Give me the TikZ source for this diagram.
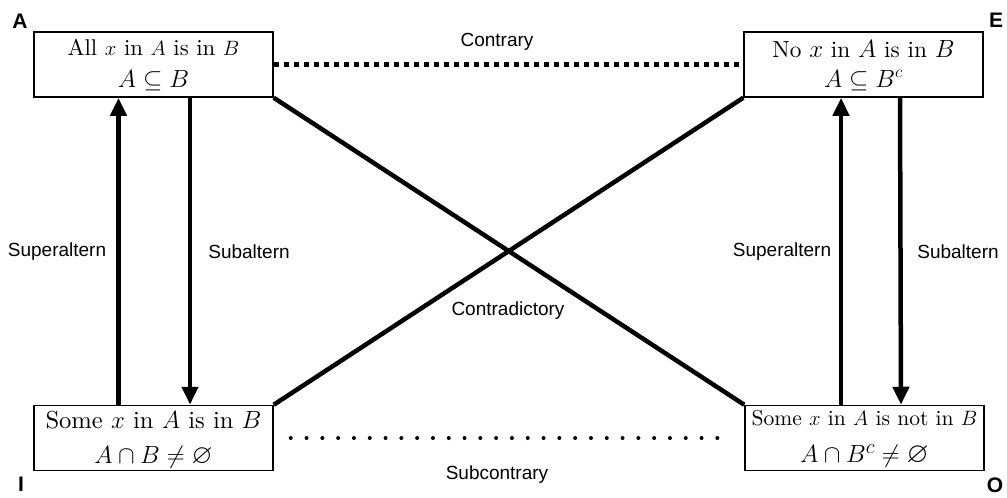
\documentclass[tikz,border=0pt]{standalone}
\usepackage{amsmath,amssymb}
\usepackage{fontspec}
\setsansfont{Liberation Sans}
\newfontfamily\proprm[Extension=.otf]{lmroman10-regular}
\usepackage{tikz}
\usetikzlibrary{arrows.meta,calc}

\begin{document}
\begin{tikzpicture}[
  x=1pt,y=-1pt,
  every node/.style={font=\sffamily\fontsize{19}{22}\selectfont},
  prop/.style={draw=black,line width=1.5pt,fill=white,minimum width=239pt,minimum height=65pt,inner sep=0pt},
  claim/.style={anchor=base,inner sep=0pt,font=\proprm\fontsize{#1}{#1}\selectfont},
  corner/.style={font=\sffamily\bfseries\fontsize{21}{22}\selectfont},
  arrow/.style={line width=4.5pt,-{Triangle[length=18pt,width=16pt]}},
  line/.style={line width=4.5pt},
  contrary/.style={line width=4.5pt,dash pattern=on 5pt off 5pt},
  subcontrary/.style={line width=4pt,line cap=round,dash pattern=on 0pt off 15.8pt}
]
\useasboundingbox (0,0) rectangle (1007,498);
\node[prop] (A) at (153.5,64.5) {};
\node[prop] (E) at (863.5,64.5) {};
\node[prop] (I) at (153.5,438) {};
\node[prop] (O) at (864.5,438) {};
% box texts
\node[claim=22.8] (A1) at ([yshift=9.5pt]A.center) {All $x$ in $A$ is in $B$};
\node[claim=26.5] (A2) at ([yshift=-22.5pt]A.center) {$A\subseteq B$};
\node[claim=23.3] (E1) at ([yshift=7.5pt]E.center) {No $x$ in $A$ is in $B$};
\node[claim=26.5] (E2) at ([yshift=-22.5pt]E.center) {$A\subseteq B^c$};
\node[claim=24.6] (I1) at ([yshift=10pt]I.center) {Some $x$ in $A$ is in $B$};
\node[claim=27] (I2) at ([yshift=-25pt]I.center) {$A\cap B\neq\varnothing$};
\node[claim=21.6] (O1) at ([yshift=13pt]O.center) {Some $x$ in $A$ is not in $B$};
\node[claim=28.5] (O2) at ([yshift=-24.5pt]O.center) {$A\cap B^c\neq\varnothing$};
% corners
\node[corner] (cA) at (20,21) {A};
\node[corner] (cE) at (996,20) {E};
\node[corner] (cI) at (21,484) {I};
\node[corner] (cO) at (995,485) {O};
% relations
\draw[line] (A.south east) -- (O.north west);
\draw[line] (E.south west) -- (I.north east);
\draw[contrary] (A.east) -- (E.west);
\draw[subcontrary,shorten <=17pt,shorten >=12pt] (I.east) -- (O.west);
\draw[arrow] ([xshift=-35pt]I.north) -- ([xshift=-35pt]A.south);
\draw[arrow] ([xshift=36.5pt]A.south) -- ([xshift=36.5pt]I.north);
\draw[arrow] ([xshift=-23.5pt]O.north) -- ([xshift=-22.5pt]E.south);
\draw[arrow] ([xshift=36.5pt]E.south) -- ([xshift=36.5pt]O.north);
% labels
\node (contrary) at (497,42) {Contrary};
\node (subcontrary) at (497,475) {Subcontrary};
\node (contradictory) at (508,311) {Contradictory};
\node (superL) at (57,252) {Superaltern};
\node (subL) at (249,252) {Subaltern};
\node (superR) at (782,252) {Superaltern};
\node (subR) at (958,252) {Subaltern};
\end{tikzpicture}
\end{document}
